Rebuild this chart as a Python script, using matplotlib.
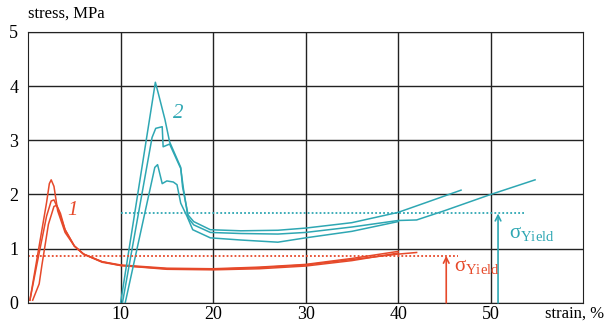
import numpy as np
import matplotlib.pyplot as plt

plt.rcParams['font.family'] = ['Liberation Serif', 'DejaVu Serif']
plt.rcParams['mathtext.fontset'] = 'custom'
plt.rcParams['mathtext.rm'] = 'Liberation Serif'
plt.rcParams['mathtext.it'] = 'Liberation Serif:italic'

red = '#e6492a'
teal = '#2ea7b3'

# curves "1" (strain %, stress MPa)
r1_x = [0.2, 1.0, 2.0, 2.3, 2.5, 2.8, 3.2, 4, 5, 6, 8, 10, 15, 20, 25, 30, 35, 40]
r1_y = [0.05, 0.85, 1.85, 2.2, 2.27, 2.15, 1.7, 1.3, 1.05, 0.9, 0.76, 0.7, 0.64, 0.63, 0.66, 0.71, 0.82, 0.95]
r2_x = [0.2, 1.0, 2.0, 2.5, 2.8, 3.2, 4, 5, 6, 8, 10, 15, 20, 25, 30, 35, 40, 42]
r2_y = [0.05, 0.75, 1.6, 1.88, 1.9, 1.75, 1.35, 1.05, 0.9, 0.76, 0.69, 0.63, 0.62, 0.65, 0.7, 0.8, 0.9, 0.93]
r3_x = [0.5, 1.2, 1.5, 2.2, 2.8, 3.1, 3.5, 4, 5, 6, 8, 10, 15, 20, 25, 30, 35, 40]
r3_y = [0.05, 0.35, 0.7, 1.45, 1.78, 1.8, 1.65, 1.35, 1.05, 0.9, 0.75, 0.69, 0.62, 0.61, 0.63, 0.68, 0.78, 0.92]

# curves "2"
t1_x = [10.0, 13.76, 14.1, 14.8, 15.3, 16.5, 16.7, 17.3, 17.9, 19.7, 23, 27, 30, 35, 40, 43, 46.8]
t1_y = [0.0, 4.07, 3.85, 3.38, 2.97, 2.5, 2.14, 1.62, 1.5, 1.35, 1.33, 1.34, 1.38, 1.48, 1.67, 1.85, 2.08]
t2_x = [10.2, 13.4, 13.8, 14.5, 14.6, 15.3, 16.5, 16.8, 17.3, 17.9, 19.7, 23, 27, 30, 35, 40, 42, 45, 50, 54.8]
t2_y = [0.0, 3.05, 3.22, 3.25, 2.88, 2.93, 2.48, 2.1, 1.57, 1.44, 1.3, 1.28, 1.27, 1.3, 1.4, 1.52, 1.53, 1.7, 2.0, 2.27]
t3_x = [10.5, 13.7, 14.0, 14.5, 15.0, 15.7, 16.1, 16.5, 17.2, 17.8, 19.7, 23, 27, 30, 35, 40]
t3_y = [0.0, 2.5, 2.55, 2.2, 2.25, 2.23, 2.18, 1.84, 1.59, 1.35, 1.2, 1.16, 1.12, 1.2, 1.32, 1.5]

yield_red = 0.87
yield_teal = 1.65

fig = plt.figure(figsize=(6.1, 3.25), dpi=100)
ax = fig.add_axes([0.046, 0.068, 0.91, 0.834])

for x, y in [(r1_x, r1_y), (r2_x, r2_y), (r3_x, r3_y)]:
    ax.plot(x, y, color=red, lw=1.1)
for x, y in [(t1_x, t1_y), (t2_x, t2_y), (t3_x, t3_y)]:
    ax.plot(x, y, color=teal, lw=1.1)

# yield levels
ax.plot([0, 46.5], [yield_red, yield_red], color=red, lw=1.3, ls=(0, (1, 1.2)))
ax.plot([0, 0], [0, yield_red], color=red, lw=1.3, ls=(0, (1, 1.2)))
ax.plot([10, 53.8], [yield_teal, yield_teal], color=teal, lw=1.3, ls=(0, (1, 1.2)))
ax.annotate('', xy=(45.2, yield_red), xytext=(45.2, 0),
            arrowprops=dict(arrowstyle='->', color=red, lw=1.2, shrinkA=0, shrinkB=0))
ax.annotate('', xy=(50.8, yield_teal), xytext=(50.8, 0),
            arrowprops=dict(arrowstyle='->', color=teal, lw=1.2, shrinkA=0, shrinkB=0))
ax.text(46.0, 0.58, r'$\mathrm{\sigma}_{\mathrm{Yield}}$', color=red, fontsize=15)
ax.text(52.0, 1.2, r'$\mathrm{\sigma}_{\mathrm{Yield}}$', color=teal, fontsize=15)

ax.text(4.2, 1.62, '1', color=red, fontsize=15, style='italic')
ax.text(15.7, 3.42, '2', color=teal, fontsize=15, style='italic')

ax.set_xlim(0, 60)
ax.set_ylim(0, 5)
ax.set_xticks([10, 20, 30, 40, 50])
ax.set_yticks([0, 1, 2, 3, 4, 5])
ax.grid(True, color='#222222', lw=1.0)
ax.set_axisbelow(True)
ax.tick_params(length=0, labelsize=13)
ax.tick_params(axis='x', pad=2)
ax.tick_params(axis='y', pad=7)
for s in ax.spines.values():
    s.set_color('#222222')

fig.text(0.046, 0.957, 'stress, MPa', fontsize=12, ha='left', va='center')
fig.text(0.99, 0.035, 'strain, %', fontsize=12, ha='right', va='center')

fig.savefig('out.png', dpi=100)
